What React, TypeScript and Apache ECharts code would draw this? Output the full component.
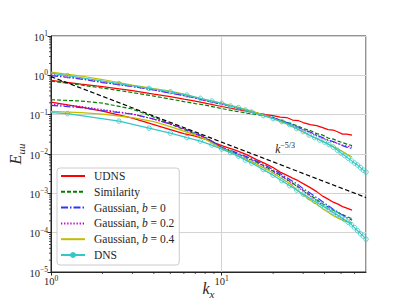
import React, { useEffect, useRef } from 'react';
import * as echarts from 'echarts';

// wavenumbers
const K_MODEL = [1, 1.5, 2, 3, 4, 5, 6, 7, 8, 10, 12, 14, 16, 18, 20, 22, 24, 26, 28, 30, 33, 36, 39, 42, 45, 48, 51, 54, 58];
const K_DNS = [1, 1.25, 2.5, 3.75, 5, 6.25, 7.5, 8.75, 10, 11.25, 12.5, 13.75, 15, 17.5, 20, 22.5, 25, 27.5, 30, 32.5, 35, 37.5, 40, 42.5, 45, 47.5, 50, 52.5, 55, 57.5, 60, 62.5, 65, 67.5, 70];
const K_REF = [1, 70];

// upper group of spectra
const UDNS_A = [0.746, 0.601, 0.519, 0.410, 0.334, 0.289, 0.249, 0.222, 0.197, 0.161, 0.139, 0.1235, 0.1098, 0.1006, 0.0949, 0.0869, 0.0844, 0.0729, 0.0708, 0.0630, 0.0560, 0.0528, 0.0470, 0.0418, 0.0406, 0.0361, 0.0321, 0.0321, 0.0303];
const SIM_A = [0.716, 0.567, 0.475, 0.365, 0.297, 0.249, 0.2155, 0.1916, 0.1755, 0.1429, 0.1235, 0.1098, 0.1006, 0.0921, 0.0819, 0.0729, 0.0648, 0.0577, 0.0513, 0.0443, 0.0394, 0.0330, 0.0303, 0.0254, 0.0239, 0.0213, 0.0195, 0.01786, 0.01636];
const G0_A = [0.988, 0.805, 0.656, 0.519, 0.423, 0.354, 0.306, 0.2645, 0.2285, 0.186, 0.1561, 0.1309, 0.1131, 0.0977, 0.0844, 0.0729, 0.0630, 0.0544, 0.0484, 0.0418, 0.0361, 0.0303, 0.0261, 0.0226, 0.0207, 0.0184, 0.01636, 0.0150, 0.01372];
const G2_A = [1.048, 0.829, 0.675, 0.519, 0.423, 0.354, 0.306, 0.2645, 0.2285, 0.186, 0.1516, 0.1272, 0.1098, 0.0949, 0.0819, 0.0708, 0.0611, 0.0528, 0.0470, 0.0406, 0.0350, 0.0294, 0.0254, 0.0219, 0.0201, 0.0184, 0.01685, 0.0159, 0.0150];
const G4_A = [1.213, 0.960, 0.782, 0.567, 0.461, 0.399, 0.334, 0.2805, 0.2423, 0.197, 0.161, 0.1349, 0.1131, 0.0949, 0.0796, 0.0667, 0.0577, 0.0484, 0.0418, 0.0361, 0.0294, 0.0247, 0.0207, 0.01786, 0.01543, 0.01333, 0.01151, 0.00994, 0.00834];
const DNS_A = [1.144, 0.988, 0.618, 0.467, 0.382, 0.315, 0.260, 0.222, 0.194, 0.1655, 0.1516, 0.1309, 0.1165, 0.0949, 0.0796, 0.0667, 0.0560, 0.0443, 0.0372, 0.0303, 0.0261, 0.0226, 0.0201, 0.01735, 0.01498, 0.01257, 0.01054, 0.00911, 0.00786, 0.00679, 0.00587, 0.00522, 0.00451, 0.00389, 0.00346];

// lower group of spectra
const UDNS_B = [0.2092, 0.1561, 0.1235, 0.0819, 0.0560, 0.0418, 0.0330, 0.0285, 0.0239, 0.01636, 0.01257, 0.00966, 0.00720, 0.00570, 0.00451, 0.00346, 0.00290, 0.00244, 0.00210, 0.001765, 0.001396, 0.001105, 0.000849, 0.000712, 0.000597, 0.000531, 0.000459, 0.000420, 0.000374];
const SIM_B = [0.2394, 0.2218, 0.197, 0.139, 0.0869, 0.0577, 0.0418, 0.0321, 0.0254, 0.01455, 0.01054, 0.00810, 0.00622, 0.00478, 0.00367, 0.00290, 0.00230, 0.001818, 0.001481, 0.001206, 0.000900, 0.000691, 0.000547, 0.000446, 0.000374, 0.000323, 0.000287, 0.000255, 0.000227];
const G0_B = [0.1724, 0.1516, 0.1272, 0.1036, 0.0773, 0.0577, 0.0443, 0.0340, 0.0269, 0.0150, 0.01118, 0.00859, 0.00660, 0.00522, 0.00401, 0.00317, 0.00251, 0.00204, 0.001665, 0.001317, 0.001012, 0.000777, 0.000615, 0.000486, 0.000396, 0.000332, 0.000279, 0.000241, 0.000208];
const G2_B = [0.186, 0.161, 0.1349, 0.1036, 0.0773, 0.0577, 0.0430, 0.0330, 0.0261, 0.01455, 0.01054, 0.00786, 0.00604, 0.00464, 0.00357, 0.00282, 0.00223, 0.001765, 0.001438, 0.001138, 0.000849, 0.000652, 0.000501, 0.000396, 0.000323, 0.000271, 0.000227, 0.000196, 0.0001745];
const G4_B = [0.1213, 0.1131, 0.1036, 0.0844, 0.0667, 0.0498, 0.0382, 0.0303, 0.0239, 0.01372, 0.00966, 0.00720, 0.00553, 0.00425, 0.00327, 0.00251, 0.001985, 0.001570, 0.001138, 0.000900, 0.000671, 0.000531, 0.000408, 0.000332, 0.000271, 0.000234, 0.000208, 0.0001905, 0.0001745];
const DNS_B = [0.1131, 0.1066, 0.0688, 0.0456, 0.0340, 0.0261, 0.0213, 0.01685, 0.01333, 0.01085, 0.00884, 0.00700, 0.00587, 0.00401, 0.00290, 0.00210, 0.00157, 0.00121, 0.000954, 0.000777, 0.000633, 0.000531, 0.000446, 0.000385, 0.000332, 0.000287, 0.000248, 0.000214, 0.000185, 0.000160, 0.000134, 0.000112, 0.0000943, 0.0000815, 0.0000683];

// k^{-5/3} reference line
const REF = [0.93, 0.00078];
const REF_LABEL_AT = [23.5, 0.0141];

const LEGEND_NAMES = ['UDNS', 'Similarity', 'Gaussian, b = 0', 'Gaussian, b = 0.2', 'Gaussian, b = 0.4', 'DNS'];
const X_MINOR = [2, 3, 4, 5, 6, 7, 8, 9, 20, 30, 40, 50, 60];
const Y_DECADES = [-5, -4, -3, -2, -1, 0];
const MINOR_MULT = [2, 3, 4, 5, 6, 7, 8, 9];

const FONT = '"Liberation Serif", "DejaVu Serif", serif';
const TXT = '#262626';

const STYLES = [
  { color: '#ff0000', type: 'solid' as any },
  { color: '#008000', type: [4, 2] as any },
  { color: '#3333ff', type: [7, 2, 1.5, 2] as any },
  { color: '#bf00bf', type: [1.3, 1.8] as any },
  { color: '#bfbf00', type: 'solid' as any },
];

const pairs = (ks: number[], vs: number[]) => ks.map((k, i) => [k, vs[i]]);

const logLabel = (v: number) => {
  const l = Math.log10(v);
  const e = Math.round(l);
  if (Math.abs(l - e) > 1e-6) return '';
  return `{b|10}{s|${e < 0 ? '\u2212' + -e : e}}`;
};

const labelRich = {
  b: { fontSize: 10.5, fontFamily: FONT, color: TXT, verticalAlign: 'bottom' },
  s: { fontSize: 7.5, fontFamily: FONT, color: TXT, verticalAlign: 'bottom', padding: [0, 0, 5, 0] },
};

export default function App() {
  const ref = useRef<HTMLDivElement>(null);
  useEffect(() => {
    if (!ref.current) return;
    const chart = echarts.init(ref.current, null, { renderer: 'svg' });
    const groups = [
      [UDNS_A, UDNS_B],
      [SIM_A, SIM_B],
      [G0_A, G0_B],
      [G2_A, G2_B],
      [G4_A, G4_B],
    ];
    const series: any[] = [];
    groups.forEach((g, i) => {
      g.forEach((vals) => {
        series.push({
          name: LEGEND_NAMES[i],
          type: 'line',
          data: pairs(K_MODEL, vals),
          showSymbol: false,
          symbol: 'none',
          lineStyle: { color: STYLES[i].color, width: 1.2, type: STYLES[i].type },
          itemStyle: { color: STYLES[i].color },
          z: 2 + i,
        });
      });
    });
    [DNS_A, DNS_B].forEach((vals) => {
      series.push({
        name: 'DNS',
        type: 'line',
        data: pairs(K_DNS, vals).map((p, j) => (j === 0 ? { value: p, symbol: 'none' } : p)),
        symbol: 'circle',
        symbolSize: 4.5,
        showSymbol: true,
        lineStyle: { color: '#33c7c7', width: 1.2 },
        itemStyle: { color: 'rgba(255,255,255,0)', borderColor: '#33c7c7', borderWidth: 0.8 },
        z: 8,
      });
    });
    series.push({
      name: 'ref',
      type: 'line',
      data: pairs(K_REF, REF),
      symbol: 'none',
      lineStyle: { color: '#000000', width: 1.2, type: [4.5, 2.5] },
      z: 9,
      markPoint: {
        symbol: 'circle',
        symbolSize: 1,
        itemStyle: { color: 'rgba(0,0,0,0)' },
        label: {
          show: true,
          position: 'inside',
          formatter: '{k|k}{s|\u22125/3}',
          rich: {
            k: { fontSize: 11.5, fontStyle: 'italic', fontFamily: FONT, color: TXT, verticalAlign: 'bottom' },
            s: { fontSize: 8, fontFamily: FONT, color: TXT, verticalAlign: 'bottom', padding: [0, 0, 5, 0] },
          },
        },
        data: [{ coord: REF_LABEL_AT }],
      },
    });

    const option: any = {
      animation: false,
      backgroundColor: '#ffffff',
      grid: {
        left: 51, right: 41, top: 36, bottom: 33,
        outerBoundsMode: 'none',
        containLabel: false,
        show: true, borderColor: TXT, borderWidth: 1, backgroundColor: 'transparent',
      },
      legend: {
        data: LEGEND_NAMES.map((n) => (n === 'DNS' ? { name: n } : { name: n, itemStyle: { opacity: 0 } })),
        orient: 'vertical',
        left: 57,
        top: 168,
        itemWidth: 24,
        itemHeight: 5,
        itemGap: 1.8,
        padding: [1, 5, 3, 3],
        backgroundColor: 'rgba(255,255,255,0.85)',
        borderColor: '#cccccc',
        borderWidth: 1,
        borderRadius: 3,
        selectedMode: false,
        formatter: (name: string) => name.replace(/^Gaussian, b = (.*)$/, 'Gaussian, {i|b} = $1'),
        textStyle: {
          fontFamily: FONT,
          fontSize: 11.5,
          lineHeight: 14,
          color: TXT,
          padding: [0, 0, 0, 4],
          rich: { i: { fontFamily: FONT, fontSize: 11.5, fontStyle: 'italic', color: TXT } },
        },
      },
      xAxis: {
        type: 'log',
        logBase: 10,
        min: 1,
        max: 70,
        name: '{k|k}{x|x}',
        nameLocation: 'middle',
        nameGap: 8,
        nameMoveOverlap: false,
        nameTextStyle: {
          verticalAlign: 'top',
          rich: {
            k: { fontSize: 16, fontStyle: 'italic', fontFamily: FONT, color: TXT, verticalAlign: 'bottom', padding: [0, 0, 3, 0] },
            x: { fontSize: 11, fontStyle: 'italic', fontFamily: FONT, color: TXT, verticalAlign: 'bottom' },
          },
        },
        axisLine: { show: true, lineStyle: { color: TXT, width: 1 } },
        axisTick: { show: true, length: 3.5, inside: false, lineStyle: { color: TXT, width: 1 } },
        axisLabel: { formatter: logLabel, margin: 2, showMaxLabel: false, rich: labelRich },
        splitLine: { show: true, lineStyle: { color: '#d3d3d3', width: 1 } },
      },
      yAxis: {
        type: 'log',
        logBase: 10,
        min: 1e-5,
        max: 10,
        splitNumber: 6,
        name: '{e|E}{u|uu}',
        nameLocation: 'middle',
        nameGap: 25,
        nameMoveOverlap: false,
        nameRotate: 90,
        nameTextStyle: {
          rich: {
            e: { fontSize: 16, fontStyle: 'italic', fontFamily: FONT, color: TXT, verticalAlign: 'bottom', padding: [0, 0, 3, 0] },
            u: { fontSize: 11, fontStyle: 'italic', fontFamily: FONT, color: TXT, verticalAlign: 'bottom' },
          },
        },
        axisLine: { show: true, lineStyle: { color: TXT, width: 1 } },
        axisTick: { show: true, length: 3.5, inside: false, lineStyle: { color: TXT, width: 1 } },
        axisLabel: { formatter: logLabel, margin: 3, rich: labelRich },
        splitLine: { show: true, lineStyle: { color: '#d3d3d3', width: 1 } },
      },
      series,
    };
    chart.setOption(option);

    // minor ticks placed through the axes' own scales
    const x0 = chart.convertToPixel({ xAxisIndex: 0 }, 1) as number;
    const y0 = chart.convertToPixel({ yAxisIndex: 0 }, 1e-5) as number;
    const elements: any[] = [];
    X_MINOR.forEach((v) => {
      const px = chart.convertToPixel({ xAxisIndex: 0 }, v) as number;
      elements.push({ type: 'line', silent: true, z: 10, shape: { x1: px, y1: y0, x2: px, y2: y0 + 2 }, style: { stroke: TXT, lineWidth: 0.8 } });
    });
    Y_DECADES.forEach((e) => {
      MINOR_MULT.forEach((m) => {
        const py = chart.convertToPixel({ yAxisIndex: 0 }, m * Math.pow(10, e)) as number;
        elements.push({ type: 'line', silent: true, z: 10, shape: { x1: x0 - 2, y1: py, x2: x0, y2: py }, style: { stroke: TXT, lineWidth: 0.8 } });
      });
    });
    chart.setOption({ graphic: { elements } });

    return () => chart.dispose();
  }, []);
  return <div ref={ref} style={{ position: 'fixed', left: 0, top: 0, width: 407, height: 305 }} />;
}
